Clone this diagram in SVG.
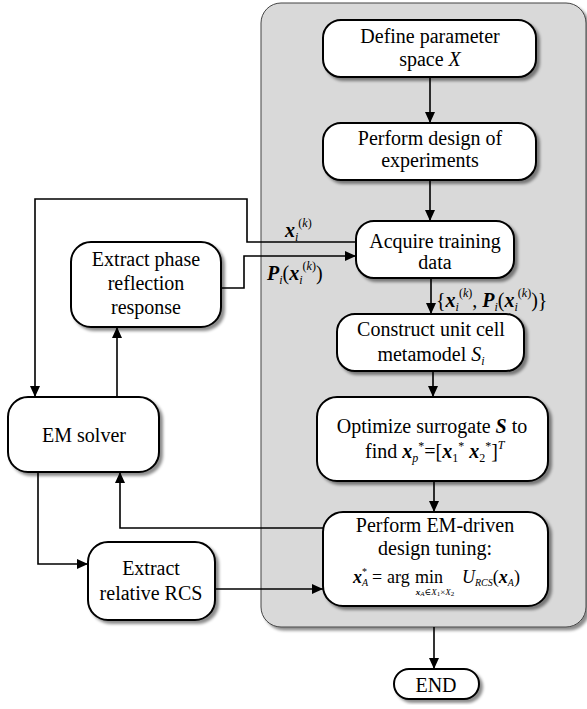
<svg xmlns="http://www.w3.org/2000/svg" width="587" height="709" viewBox="0 0 587 709" font-family="Liberation Serif, DejaVu Serif, Noto Serif, serif">
<style>
.box{fill:#fff;stroke:#000;stroke-width:2;filter:url(#sh)}
.t{font-size:20px;text-anchor:middle;fill:#000}
.m{fill:#000}
.c{fill:none;stroke:#000;stroke-width:1.6}
.a{marker-end:url(#ah)}
.bi{font-weight:bold;font-style:italic}
.i{font-style:italic}
</style>
<defs>
<filter id="sh" x="-10%" y="-10%" width="130%" height="130%">
<feDropShadow dx="3" dy="3" stdDeviation="1.8" flood-color="#000" flood-opacity="0.45"/>
</filter>
<marker id="ah" markerUnits="userSpaceOnUse" markerWidth="12" markerHeight="10" refX="11" refY="5" orient="auto">
<path d="M0,0 L11,5 L0,10 z" fill="#000"/>
</marker>
</defs>

<g id="panel">
<rect x="261" y="3" width="325" height="624" rx="20" fill="#d9d9d9" stroke="#444" stroke-width="1" filter="url(#sh)"/>
</g>

<g id="connectors">
<path class="c a" d="M430,77 V123"/>
<path class="c a" d="M430,180 V221"/>
<path class="c a" d="M431,278 V314"/>
<path class="c a" d="M433,371 V397"/>
<path class="c a" d="M434,481 V512"/>
<path class="c a" d="M434,627 V669"/>
<path class="c a" d="M357,242 H247 V199 H35 V397"/>
<path class="c a" d="M221,288 H244 V256 H356"/>
<path class="c a" d="M117,397 V327"/>
<path class="c a" d="M324,528 H120 V472"/>
<path class="c a" d="M38,472 V564 H88"/>
<path class="c a" d="M215,589 H323"/>
<text class="m" x="285" y="237" font-size="20"><tspan class="bi">x</tspan><tspan class="i" font-size="12" dy="4">i</tspan><tspan font-size="12" dy="-14">(</tspan><tspan class="i" font-size="12">k</tspan><tspan font-size="12">)</tspan></text>
<text class="m" x="267" y="280" font-size="20"><tspan class="bi">P</tspan><tspan class="i" font-size="12" dy="4">i</tspan><tspan dy="-4">(</tspan><tspan class="bi">x</tspan><tspan class="i" font-size="12" dy="4">i</tspan><tspan font-size="12" dy="-14">(</tspan><tspan class="i" font-size="12">k</tspan><tspan font-size="12">)</tspan><tspan dy="10">)</tspan></text>
<text class="m" x="436" y="307" font-size="20"><tspan>{</tspan><tspan class="bi">x</tspan><tspan class="i" font-size="12" dy="4">i</tspan><tspan font-size="12" dy="-14">(</tspan><tspan class="i" font-size="12">k</tspan><tspan font-size="12">)</tspan><tspan dy="10">, </tspan><tspan class="bi">P</tspan><tspan class="i" font-size="12" dy="4">i</tspan><tspan dy="-4">(</tspan><tspan class="bi">x</tspan><tspan class="i" font-size="12" dy="4">i</tspan><tspan font-size="12" dy="-14">(</tspan><tspan class="i" font-size="12">k</tspan><tspan font-size="12">)</tspan><tspan dy="10">)}</tspan></text>
</g>

<g id="define">
<rect class="box" x="323" y="20" width="213" height="57" rx="18"/>
<text class="t" x="430" y="43">Define parameter</text>
<text class="t" x="430" y="66">space <tspan class="i">X</tspan></text>
</g>

<g id="doe">
<rect class="box" x="323" y="123" width="213" height="57" rx="18"/>
<text class="t" x="430" y="145">Perform design of</text>
<text class="t" x="430" y="167">experiments</text>
</g>

<g id="acquire">
<rect class="box" x="356" y="221" width="158" height="57" rx="18"/>
<text class="t" x="435" y="248">Acquire training</text>
<text class="t" x="435" y="269">data</text>
</g>

<g id="construct">
<rect class="box" x="337" y="314" width="187" height="57" rx="18"/>
<text class="t" x="431" y="336">Construct unit cell</text>
<text class="t" x="431" y="361">metamodel <tspan class="i">S</tspan><tspan class="i" font-size="12" dy="4">i</tspan></text>
</g>

<g id="optimize">
<rect class="box" x="317" y="397" width="231" height="84" rx="20"/>
<text class="t" x="432" y="433">Optimize surrogate <tspan font-weight="bold" font-style="italic">S</tspan> to</text>
<text class="m" x="365" y="458" font-size="20">find <tspan class="bi">x</tspan><tspan class="i" font-size="12" dy="4">p</tspan><tspan font-size="12" dy="-12">*</tspan><tspan dy="8">=[</tspan><tspan class="bi">x</tspan><tspan font-size="12" dy="4">1</tspan><tspan font-size="12" dy="-12">*</tspan><tspan dy="8"> </tspan><tspan class="bi">x</tspan><tspan font-size="12" dy="4">2</tspan><tspan font-size="12" dy="-12">*</tspan><tspan dy="8">]</tspan><tspan class="i" font-size="12" dy="-9">T</tspan></text>
</g>

<g id="tuning">
<rect class="box" x="323" y="512" width="225" height="94" rx="20"/>
<text class="t" x="435" y="532">Perform EM-driven</text>
<text class="t" x="435" y="555">design tuning:</text>
<text class="m" x="353" y="583" font-size="18"><tspan class="bi">x</tspan><tspan class="i" font-size="10" dy="3">A</tspan></text>
<text class="m" x="362" y="575" font-size="10">*</text>
<text class="m" x="372" y="583" font-size="18">=</text>
<text class="m" x="387" y="583" font-size="18">arg</text>
<text class="m" x="429" y="583" font-size="18" text-anchor="middle">min</text>
<text class="m" x="435" y="595" font-size="9" text-anchor="middle"><tspan class="bi">x</tspan><tspan class="i" font-size="7" dy="1">A</tspan><tspan dy="-1">∈</tspan><tspan class="i">X</tspan><tspan font-size="7" dy="1">1</tspan><tspan dy="-1">×</tspan><tspan class="i">X</tspan><tspan font-size="7" dy="1">2</tspan></text>
<text class="m" x="462" y="583" font-size="18"><tspan class="i">U</tspan><tspan class="i" font-size="10" dy="3">RCS</tspan><tspan dy="-3">(</tspan><tspan class="bi">x</tspan><tspan class="i" font-size="10" dy="3">A</tspan><tspan dy="-3">)</tspan></text>
</g>

<g id="end">
<rect class="box" x="394" y="669" width="85" height="30" rx="15"/>
<text class="t" x="436" y="692">END</text>
</g>

<g id="phase">
<rect class="box" x="71" y="242" width="150" height="85" rx="20"/>
<text class="t" x="146" y="266">Extract phase</text>
<text class="t" x="146" y="290">reflection</text>
<text class="t" x="146" y="314">response</text>
</g>

<g id="solver">
<rect class="box" x="8" y="397" width="151" height="75" rx="20"/>
<text class="t" x="84" y="442">EM solver</text>
</g>

<g id="rcs">
<rect class="box" x="88" y="542" width="127" height="78" rx="20"/>
<text class="t" x="151" y="575">Extract</text>
<text class="t" x="151" y="600">relative RCS</text>
</g>
</svg>
